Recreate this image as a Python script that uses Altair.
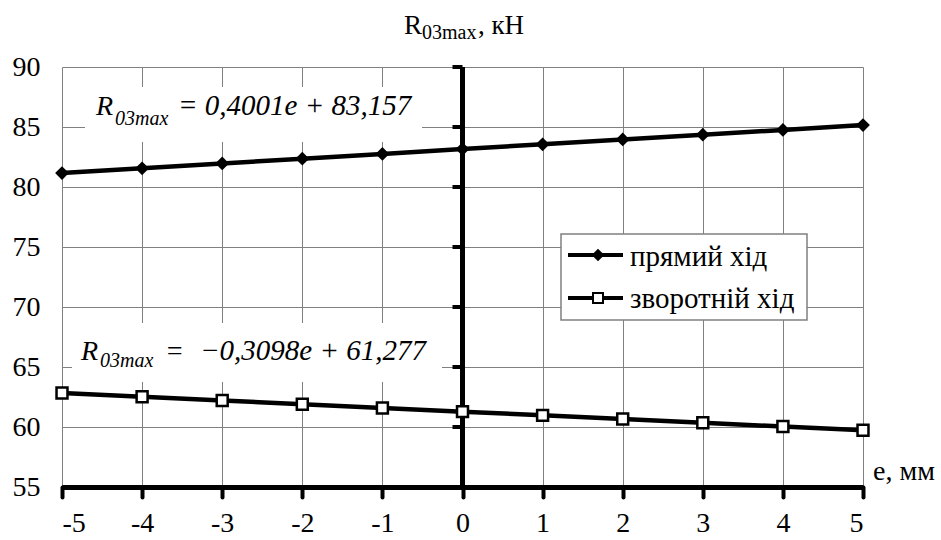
import altair as alt
import pandas as pd

# ---- data ----
e_values = [-5, -4, -3, -2, -1, 0, 1, 2, 3, 4, 5]
forward = [81.16, 81.56, 81.96, 82.36, 82.76, 83.16, 83.56, 83.96, 84.36, 84.76, 85.16]
reverse = [62.83, 62.52, 62.21, 61.90, 61.59, 61.28, 60.97, 60.66, 60.35, 60.04, 59.73]
series_names = ["прямий хід", "зворотній хід"]
y_ticks = [55, 60, 65, 70, 75, 80, 85, 90]
x_ticks = [-5, -4, -3, -2, -1, 0, 1, 2, 3, 4, 5]
eq1_text = "= 0,4001e + 83,157"
eq2_eq = "="
eq2_text = "−0,3098e + 61,277"
title_main = "R"
title_sub = "03max"
title_unit = ", кН"
x_title = "e, мм"

df = pd.DataFrame({
    "e": e_values * 2,
    "R": forward + reverse,
    "series": [series_names[0]] * len(e_values) + [series_names[1]] * len(e_values),
})
df_f = df[df.series == series_names[0]]
df_r = df[df.series == series_names[1]]

FONT = "Liberation Serif"
W, H = 801, 420

xs = alt.Scale(domain=[-5, 5], nice=False)
ys = alt.Scale(domain=[55, 90], nice=False, zero=False)

x_enc = alt.X("e:Q", scale=xs, axis=alt.Axis(
    values=x_ticks, title=None, grid=True, gridColor="#808080", gridWidth=1,
    domainColor="black", domainWidth=5, tickColor="black", tickWidth=4,
    tickSize=10, labelPadding=12, labelFontSize=28, labelFont=FONT,
    labelColor="black", tickCap="round", labelExpr="'' + datum.value"))
y_enc = alt.Y("R:Q", scale=ys, axis=alt.Axis(
    values=y_ticks, title=None, grid=True, gridColor="#808080", gridWidth=1,
    domain=False, ticks=False, labelPadding=22, labelFontSize=28,
    labelFont=FONT, labelColor="black"))

lines = alt.Chart(df).mark_line(color="black", strokeWidth=4.5).encode(
    x=x_enc, y=y_enc, detail="series:N")

pts_f = alt.Chart(df_f).mark_point(shape="diamond", filled=True, color="black",
                                   size=190, opacity=1).encode(
    x=alt.X("e:Q", scale=xs), y=alt.Y("R:Q", scale=ys))
pts_r = alt.Chart(df_r).mark_point(shape="square", filled=True, fill="white",
                                   stroke="black", strokeWidth=2.5, size=120,
                                   opacity=1).encode(
    x=alt.X("e:Q", scale=xs), y=alt.Y("R:Q", scale=ys))

# central vertical axis at e = 0
vaxis_df = pd.DataFrame({"e": [0], "y0": [y_ticks[0]], "y1": [y_ticks[-1]]})
vaxis = alt.Chart(vaxis_df).mark_rule(color="black", strokeWidth=5).encode(
    x=alt.X("e:Q", scale=xs), y=alt.Y("y0:Q", scale=ys), y2="y1:Q")
vticks_df = pd.DataFrame({"e": [0] * len(y_ticks), "R": y_ticks})
vticks = alt.Chart(vticks_df).mark_tick(orient="horizontal", color="black",
                                        size=10, thickness=4, xOffset=-5,
                                        opacity=1).encode(
    x=alt.X("e:Q", scale=xs), y=alt.Y("R:Q", scale=ys))

one = alt.Data(values=[{"a": 1}])


def rect(x1, x2, y1, y2, stroke=None):
    kw = dict(fill="white")
    if stroke:
        kw.update(stroke=stroke, strokeWidth=1.5)
    return alt.Chart(one).mark_rect(**kw).encode(
        x=alt.value(x1), x2=alt.value(x2), y=alt.value(y1), y2=alt.value(y2))


def txt(t, x, y, size, italic=False, align="left"):
    kw = dict(text=t, font=FONT, fontSize=size, color="black", align=align,
              baseline="alphabetic")
    if italic:
        kw["fontStyle"] = "italic"
    return alt.Chart(one).mark_text(**kw).encode(x=alt.value(x), y=alt.value(y))


def hrule(x1, x2, y, w=4):
    return alt.Chart(one).mark_rule(color="black", strokeWidth=w).encode(
        x=alt.value(x1), x2=alt.value(x2), y=alt.value(y))


def sym(x, y, shape, fill, size):
    return alt.Chart(one).mark_point(shape=shape, filled=True, fill=fill,
                                     stroke="black", strokeWidth=2 if fill == "white" else 0,
                                     size=size, opacity=1).encode(
        x=alt.value(x), y=alt.value(y))


annos = [
    # title
    txt(title_main, 360, -33, 27, align="right"),
    txt(title_sub, 360, -28, 20),
    txt(title_unit, 416, -33, 27),
    # x-axis title
    txt(x_title, 811, 413, 28),
    # equation 1
    rect(23, 360, 20, 75),
    txt("R", 51, 48, 28, italic=True, align="right"),
    txt(title_sub, 53, 58, 20, italic=True),
    txt(eq1_text, 116, 48, 29, italic=True),
    # equation 2
    rect(10, 380, 256, 315),
    txt("R", 36, 293, 28, italic=True, align="right"),
    txt(title_sub, 38, 300, 20, italic=True),
    txt(eq2_eq, 103, 293, 28, italic=True),
    txt(eq2_text, 138, 293, 29, italic=True),
    # legend
    rect(499, 745, 167, 253, stroke="#808080"),
    hrule(506, 561, 188),
    sym(536, 188, "diamond", "black", 160),
    txt(series_names[0], 568, 199, 29),
    hrule(506, 561, 231),
    sym(536, 231, "square", "white", 100),
    txt(series_names[1], 568, 241, 29),
]

chart = alt.layer(lines, vaxis, vticks, pts_f, pts_r, *annos).properties(
    width=W, height=H,
    autosize=alt.AutoSizeParams(type="none"),
    padding={"left": 62, "top": 67, "right": 78, "bottom": 53},
    background="white",
).configure_view(strokeWidth=0)

chart.save("out.html", embed_options={"renderer": "svg", "actions": False})
